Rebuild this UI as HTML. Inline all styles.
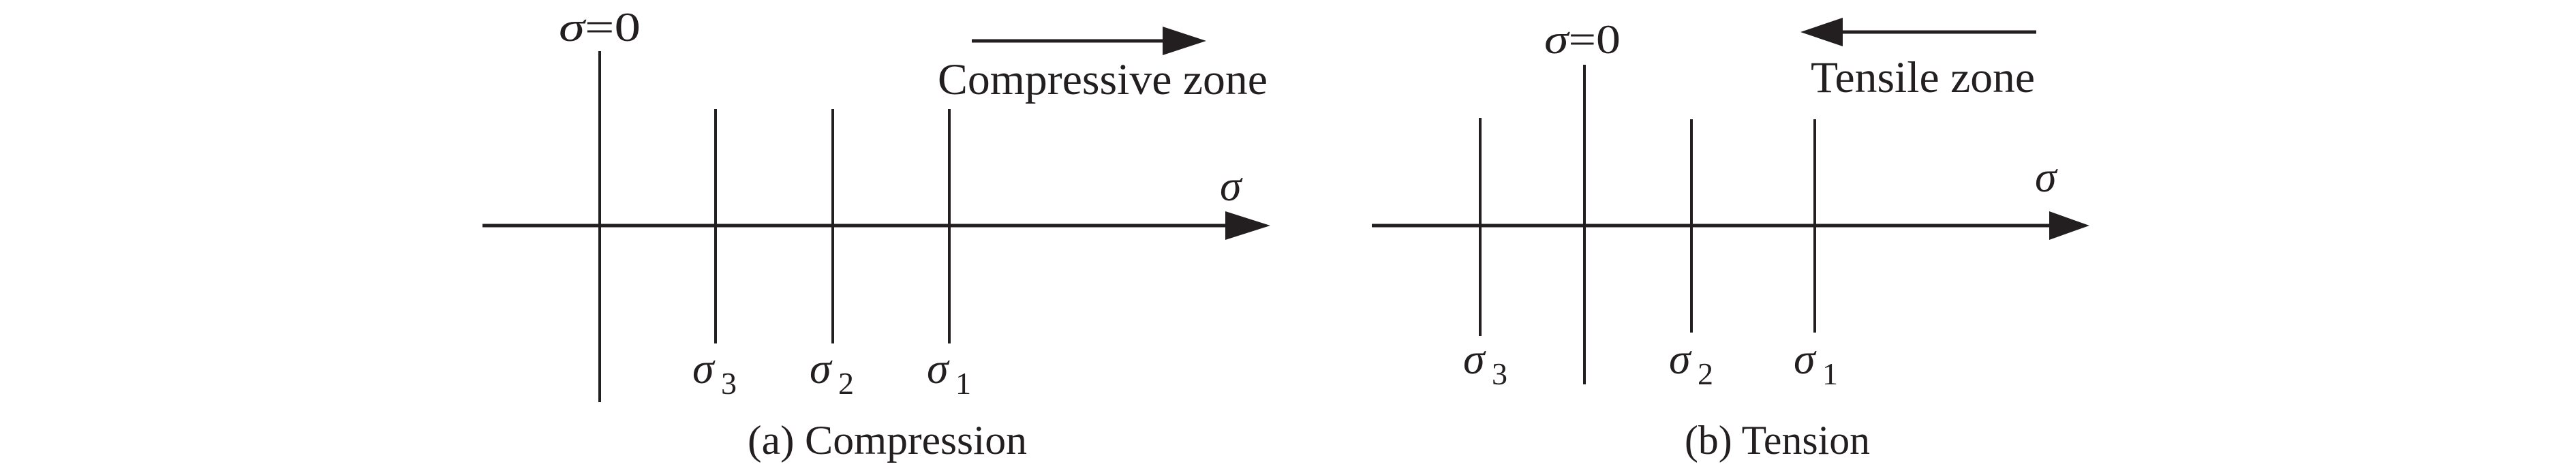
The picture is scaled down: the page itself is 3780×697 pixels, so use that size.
<!DOCTYPE html>
<html><head><meta charset="utf-8"><style>
html,body{margin:0;padding:0;background:#fff;}
svg{display:block;}
text{font-family:"Liberation Serif",serif;fill:#231f20;}
.i{font-style:italic;}
</style></head><body>
<svg width="3780" height="697" viewBox="0 0 3780 697" xmlns="http://www.w3.org/2000/svg">
<g stroke="#231f20" fill="none">
<line x1="708" y1="331" x2="1800" y2="331" stroke-width="5"/>
<line x1="880" y1="75" x2="880" y2="590" stroke-width="4"/>
<line x1="1050" y1="160" x2="1050" y2="504" stroke-width="4"/>
<line x1="1222" y1="160" x2="1222" y2="504" stroke-width="4"/>
<line x1="1393" y1="160" x2="1393" y2="504" stroke-width="4"/>
<line x1="1426" y1="60" x2="1708" y2="60" stroke-width="5"/>
<line x1="2013" y1="331" x2="3009" y2="331" stroke-width="5"/>
<line x1="2325" y1="95" x2="2325" y2="564" stroke-width="4"/>
<line x1="2172" y1="173" x2="2172" y2="493" stroke-width="4"/>
<line x1="2482" y1="175" x2="2482" y2="488" stroke-width="4"/>
<line x1="2663" y1="175" x2="2663" y2="488" stroke-width="4"/>
<line x1="2702" y1="47" x2="2988" y2="47" stroke-width="5"/>
</g>
<g fill="#231f20">
<polygon points="1798,310 1864,331 1798,352"/>
<polygon points="1706,39 1770,60 1706,81"/>
<polygon points="3007,310 3066,331 3007,352"/>
<polygon points="2704,26 2642,47 2704,68"/>
</g>
<text x="820" y="60" font-size="60" textLength="120" lengthAdjust="spacingAndGlyphs"><tspan class="i">σ</tspan>=0</text>
<text x="1376" y="138" font-size="65" textLength="484" lengthAdjust="spacingAndGlyphs">Compressive zone</text>
<text x="1790" y="294" font-size="64" class="i">σ</text>
<text x="1016" y="562" font-size="64" class="i">σ</text><text x="1058" y="578" font-size="46">3</text>
<text x="1188" y="562" font-size="64" class="i">σ</text><text x="1230" y="578" font-size="46">2</text>
<text x="1360" y="562" font-size="64" class="i">σ</text><text x="1402" y="578" font-size="46">1</text>
<text x="1302" y="666" font-size="60" text-anchor="middle" textLength="410" lengthAdjust="spacingAndGlyphs">(a) Compression</text>
<text x="2266" y="78" font-size="60" textLength="112" lengthAdjust="spacingAndGlyphs"><tspan class="i">σ</tspan>=0</text>
<text x="2657" y="135" font-size="65" textLength="329" lengthAdjust="spacingAndGlyphs">Tensile zone</text>
<text x="2986" y="281" font-size="64" class="i">σ</text>
<text x="2147" y="548" font-size="64" class="i">σ</text><text x="2189" y="564" font-size="46">3</text>
<text x="2449" y="548" font-size="64" class="i">σ</text><text x="2491" y="564" font-size="46">2</text>
<text x="2632" y="548" font-size="64" class="i">σ</text><text x="2674" y="564" font-size="46">1</text>
<text x="2608" y="666" font-size="60" text-anchor="middle" textLength="272" lengthAdjust="spacingAndGlyphs">(b) Tension</text>
</svg>
</body></html>
